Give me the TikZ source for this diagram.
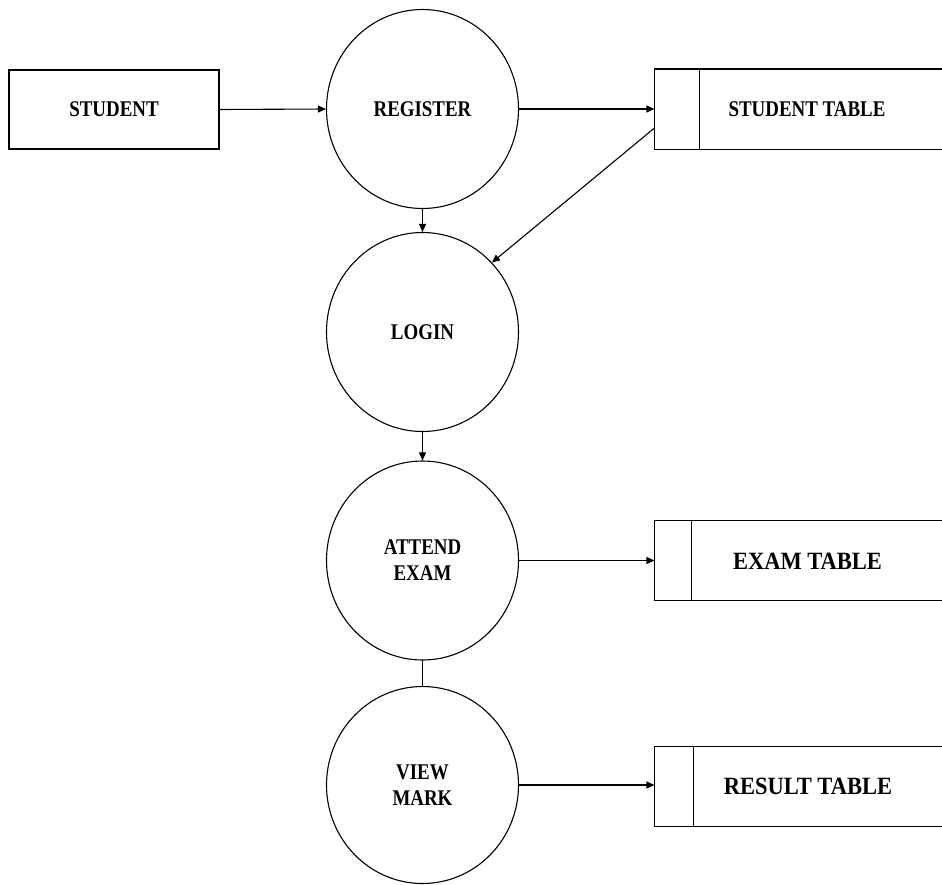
\documentclass[tikz,border=0pt]{standalone}
\usepackage{fontspec}
\usepackage{graphicx}
\setmainfont{Liberation Serif}
\usetikzlibrary{shapes.geometric,arrows.meta}
\newcommand\tallword[1]{\scalebox{0.97}[1.15]{#1}}
\newcommand\bigword[1]{\scalebox{0.97}[1.07]{#1}}
\begin{document}
\begin{tikzpicture}[x=1pt,y=-1pt,
  line width=1.1pt,
  every node/.style={font=\fontsize{19.5}{26}\selectfont\bfseries, align=center, inner sep=0pt},
  biglabel/.style={font=\fontsize{23.2}{28}\selectfont\bfseries},
  entity/.style={draw, rectangle, minimum width=210pt, minimum height=79pt},
  proc/.style={draw, ellipse, minimum width=192pt, minimum height=199pt},
  store/.style={rectangle, minimum width=287pt, minimum height=79pt},
  flow/.style={-{Triangle[length=8pt,width=7pt]}},
  plain/.style={}
]
\useasboundingbox (0,0) rectangle (942,884);
\fill[white] (0,0) rectangle (942,884);

\node[entity] (student) at (114,109.5) {\tallword{STUDENT}};
\node[proc] (register) at (422.5,109) {\tallword{REGISTER}};
\node[proc] (login) at (422.5,332) {\tallword{LOGIN}};
\node[proc] (attend) at (422.5,560.5) {\tallword{ATTEND}\\\tallword{EXAM}};
\node[proc, minimum height=197pt] (view) at (422.5,785) {\tallword{VIEW}\\\tallword{MARK}};

\node[store] (st) at (798.5,109) {};
\node[store] (et) at (798.5,560.5) {};
\node[store] (rt) at (798.5,786.5) {};

\node (stl) at (807,109) {\tallword{STUDENT TABLE}};
\node[biglabel] (etl) at (807.5,561) {\bigword{EXAM TABLE}};
\node[biglabel] (rtl) at (808,786) {\bigword{RESULT TABLE}};

% open data-store outlines
\draw (st.north east) -- (st.north west) -- (st.south west) -- (st.south east);
\draw ([xshift=45pt]st.north west) -- ([xshift=45pt]st.south west);
\draw (et.north east) -- (et.north west) -- (et.south west) -- (et.south east);
\draw ([xshift=37pt]et.north west) -- ([xshift=37pt]et.south west);
\draw (rt.north east) -- (rt.north west) -- (rt.south west) -- (rt.south east);
\draw ([xshift=39pt]rt.north west) -- ([xshift=39pt]rt.south west);

% connectors
\draw[flow] (student.east) -- (register.west);
\draw[flow] (register.east) -- (st.west);
\draw[flow] ([yshift=-19pt]st.west) -- (login.45);
\draw[flow] (register.south) -- (login.north);
\draw[flow] (login.south) -- (attend.north);
\draw[flow] (attend.east) -- (attend.east -| et.west);
\draw[plain] (attend.south) -- (view.north);
\draw[flow] (view.east) -- (view.east -| rt.west);
\end{tikzpicture}
\end{document}
